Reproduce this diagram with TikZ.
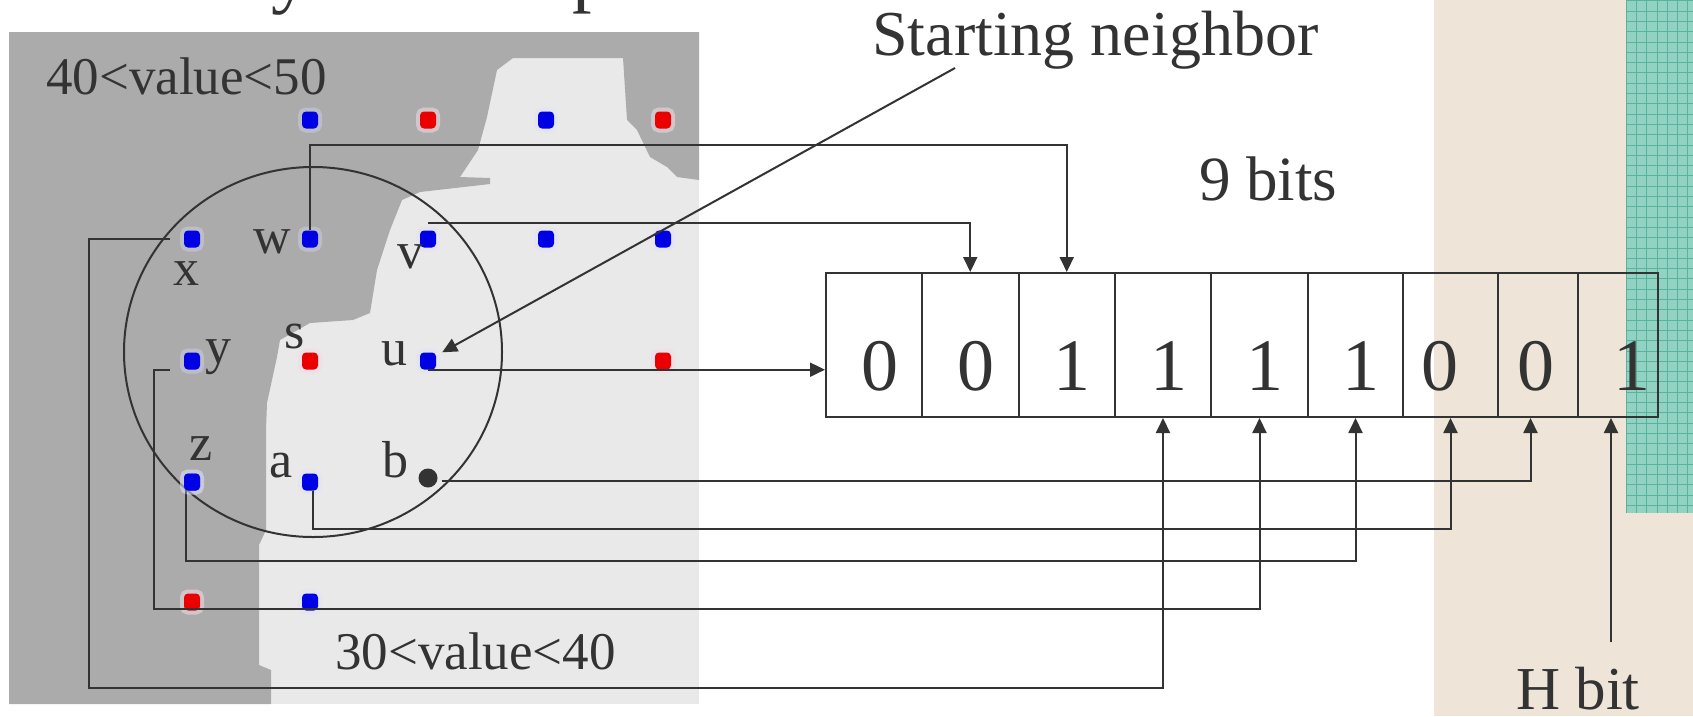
\documentclass[tikz,border=0pt]{standalone}
\usepackage{fontspec}
\setmainfont{Liberation Serif}
\usetikzlibrary{arrows.meta}
\definecolor{ink}{RGB}{51,51,51}
\definecolor{dkgray}{RGB}{171,171,171}
\definecolor{ltgray}{RGB}{233,233,233}
\definecolor{dotblue}{RGB}{0,0,228}
\definecolor{dotred}{RGB}{235,0,0}
\definecolor{beige}{RGB}{238,228,216}
\definecolor{teala}{RGB}{146,210,194}
\definecolor{tealb}{RGB}{88,178,158}
\begin{document}
\begin{tikzpicture}[x=1pt,y=-1pt,
  conn/.style={draw=ink, line width=2pt},
  arr/.style={conn, -{Triangle[length=15pt,width=14pt]}},
  bdot/.style={rectangle, rounded corners=4pt, minimum width=16pt, minimum height=17pt, inner sep=0pt, fill=dotblue,
     preaction={draw=dotblue!12, line width=8pt, draw opacity=0.35}},
  rdot/.style={bdot, fill=dotred, preaction={draw=dotred!15, line width=8pt, draw opacity=0.35}},
  kdot/.style={circle, minimum size=19pt, inner sep=0pt, fill=ink},
  lab/.style={inner sep=0pt, anchor=base, text=ink, font=\fontsize{52}{52}\selectfont},
  txt/.style={inner sep=0pt, anchor=base west, text=ink},
  cell/.style={draw=ink, line width=2pt, minimum height=144pt, inner sep=0pt},
  digit/.style={inner sep=0pt, anchor=base, text=ink, font=\fontsize{74}{74}\selectfont},
  ttl/.style={inner sep=0pt, anchor=base west, text=ink, font=\fontsize{78}{78}\selectfont}
]
\useasboundingbox (0,0) rectangle (1693,716);
\fill[white] (0,0) rectangle (1693,716);
% right side backgrounds
\fill[beige] (1434,0) rectangle (1693,716);
\fill[teala] (1626,0) rectangle (1693,513);
\foreach \i in {0,...,6} \draw[tealb, line width=0.7pt] ({1626+\i*10.3},0) -- ({1626+\i*10.3},513);
\foreach \j in {0,...,49} \draw[tealb, line width=0.7pt] (1626,{\j*10.3+0.7}) -- (1693,{\j*10.3+0.7});
% cut title fragments
\node[ttl] (t1) at (271,-2) {y};
\node[ttl] (t2) at (572,-3) {p};
% image background
\fill[ltgray] (9,32) rectangle (699,704);
\fill[dkgray] (9,32) -- (699,32) -- (699,180) -- (677,177) -- (667,167) -- (650,157) -- (637,130) -- (627,120)
  -- (623,58) -- (513,58) -- (497,70) -- (487,117) -- (478,150) -- (460,177) -- (490,178) -- (490,184)
  -- (420,192) -- (402,200) -- (390,230) -- (377,270) -- (370,313) -- (353,320) -- (310,323) -- (280,340)
  -- (277,357) -- (267,403) -- (266,430) -- (266,530) -- (259,545) -- (259,665) -- (271,670) -- (271,704)
  -- (9,704) -- cycle;
% ring
\draw[ink, line width=2pt] (313,352) ellipse [x radius=189, y radius=185];
% cells
\foreach \n/\cx/\w in {1/874/96, 2/970.25/96.5, 3/1066.75/96.5, 4/1163/96, 5/1259.5/97, 6/1355.5/95, 7/1450.5/95, 8/1538/80, 9/1618/80}
  \node[cell, minimum width=\w] (c\n) at (\cx,345) {};
\foreach \n/\dx/\dg in {1/880/0, 2/976/0, 3/1072/1, 4/1169/1, 5/1265/1, 6/1361/1, 7/1440/0, 8/1536/0, 9/1632/1}
  \node[digit] (g\n) at (\dx,390) {\dg};
% dots
\node[bdot] (d1) at (310,120) {};
\node[rdot] (d2) at (428,120) {};
\node[bdot] (d3) at (546,120) {};
\node[rdot] (d4) at (663,120) {};
\node[bdot] (dx) at (192,239) {};
\node[bdot] (dw) at (310,239) {};
\node[bdot] (dv) at (428,239) {};
\node[bdot] (d5) at (546,239) {};
\node[bdot] (d6) at (663,239) {};
\node[bdot] (dy) at (192,361) {};
\node[rdot] (ds) at (310,361) {};
\node[bdot] (du) at (428,361) {};
\node[rdot] (d7) at (663,361) {};
\node[bdot] (dz) at (192,482) {};
\node[bdot] (da) at (310,482) {};
\node[kdot] (db) at (428,478) {};
\node[rdot] (d8) at (192,602) {};
\node[bdot] (d9) at (310,602) {};
% coordinates for routing
\coordinate (wy) at (0,145);
\coordinate (ay) at (0,529);
\coordinate (zy) at (0,561);
\coordinate (yy) at (0,609);
\coordinate (yx) at (154,0);
\coordinate (xy) at (0,688);
\coordinate (xx) at (89,0);
\coordinate (ys) at ([xshift=-14pt]dy.south west);
\coordinate (xs) at ([xshift=-14pt]dx.west);
\coordinate (zs) at ([xshift=-6pt]dz.center);
\coordinate (as) at ([xshift=3pt]da.south);
\coordinate (snfoot) at (955,68);
\coordinate (hs) at (1611,642);
% connectors
\draw[arr] (dw.north) -- (dw.north |- wy) -| (c3.north);
\draw[arr] ([yshift=7pt]dv.north) -| (c2.north);
\draw[arr] (du.south) -- (du.south -| c1.west);
\draw[arr] (snfoot) -- ([xshift=6pt]du.north east);
\draw[arr] ([shift={(4pt,-3pt)}]db.east) -| ([xshift=-7.5pt]c8.south);
\draw[arr] (as) -- (as |- ay) -| (c7.south);
\draw[arr] (zs) -- (zs |- zy) -| (c6.south);
\draw[arr] (ys) -- (ys -| yx) |- (yy -| c5.south) -- (c5.south);
\draw[arr] (xs) -- (xs -| xx) |- (xy -| c4.south) -- (c4.south);
\draw[arr] (hs) -- (hs |- c9.south);
% redraw dot above connector start
\node[bdot] (dz2) at (dz) {};
% letter labels
\node[lab] (lx) at (186,285) {x};
\node[lab] (lw) at (272,253) {w};
\node[lab] (lv) at (410,268) {v};
\node[lab] (ly) at (218,363) {y};
\node[lab] (ls) at (295,348) {s};
\node[lab] (lu) at (394,365) {u};
\node[lab] (lz) at (201,460) {z};
\node[lab] (la) at (281,477) {a};
\node[lab] (lb) at (395,477) {b};
% texts
\node[txt, font=\fontsize{53}{53}\selectfont] (r1) at (46,94) {40<value<50};
\node[txt, font=\fontsize{53}{53}\selectfont] (r2) at (335,669) {30<value<40};
\node[txt, font=\fontsize{64}{64}\selectfont] (sn) at (872,55) {Starting neighbor};
\node[txt, font=\fontsize{63}{63}\selectfont] (nb) at (1199,200) {9 bits};
\node[txt, font=\fontsize{61}{61}\selectfont] (hb) at (1516,709) {H bit};
\end{tikzpicture}
\end{document}
